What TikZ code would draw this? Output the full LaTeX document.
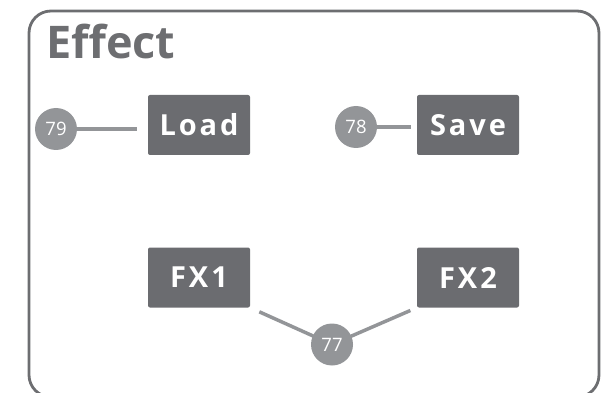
\documentclass[tikz,border=0pt]{standalone}
\usepackage{fontspec}
\usetikzlibrary{backgrounds}
\setmainfont{Open Sans}
\definecolor{framegray}{HTML}{6D6E71}
\definecolor{boxgray}{HTML}{6B6C70}
\definecolor{lightgray}{HTML}{939598}
\begin{document}
\begin{tikzpicture}[x=1pt,y=-1pt,
  keybox/.style={fill=boxgray,rounded corners=2pt,minimum width=102pt,minimum height=60pt,
    inner sep=0pt,text=white,font=\fontsize{29}{29}\bfseries\addfontfeature{LetterSpace=10}\selectfont},
  badge/.style={circle,fill=lightgray,minimum size=42pt,inner sep=0pt,text=white,
    font=\fontsize{18.5}{18.5}\selectfont},
  link/.style={draw=lightgray,line width=3.5pt}]
\useasboundingbox (0,0) rectangle (608,393);
\node[anchor=base west,text=framegray,font=\fontsize{45}{45}\bfseries\selectfont,inner sep=0pt] (title) at (46,59) {Effect};
\node[keybox] (load) at (199,125) {Load};
\node[keybox] (save) at (468,125) {Save};
\node[keybox] (fx1) at (199,277.5) {FX1};
\node[keybox] (fx2) at (468,277.5) {FX2};
\node[badge] (c79) at (56,129) {79};
\node[badge] (c78) at (356,127) {78};
\node[badge] (c77) at (332,344.5) {77};
\begin{scope}[on background layer]
\begin{scope}
\clip (0,0) rectangle (608,393);
\draw[framegray,line width=2.8pt,rounded corners=22pt] (29,11) rectangle (599,397);
\end{scope}
\draw[link,shorten >=11pt] (c79.center) -- (c79.center -| load.west);
\draw[link,shorten >=6pt] (c78.center) -- (c78.center -| save.west);
\draw[link,shorten <=10pt] (fx1.south east) -- (c77.center);
\draw[link,shorten >=7pt] (c77.center) -- (fx2.south west);
\end{scope}
\end{tikzpicture}
\end{document}
